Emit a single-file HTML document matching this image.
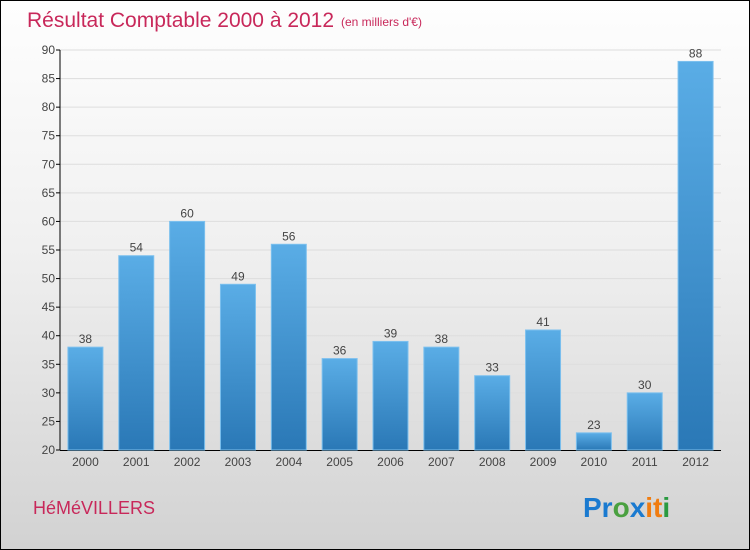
<!DOCTYPE html>
<html><head><meta charset="utf-8"><style>
body{margin:0;}
#wrap{position:relative;width:748px;height:548px;border:1px solid #000;background:linear-gradient(#fefefe 0%,#f0f0f0 45%,#d2d2d2 100%);overflow:hidden;font-family:"Liberation Sans",sans-serif;}
</style></head><body>
<div id="wrap">
<svg width="748" height="548">
<defs><linearGradient id="bg" x1="0" y1="0" x2="0" y2="1"><stop offset="0" stop-color="#5aade6"/><stop offset="1" stop-color="#2a78b6"/></linearGradient></defs>
<text x="26" y="26" font-size="21" fill="#c8285a">Résultat Comptable 2000 à 2012</text>
<text x="340" y="25" font-size="12" fill="#c8285a">(en milliers d'€)</text>
<g id="axes"></g><g id="bars"></g>
<text x="32" y="513" font-size="18" fill="#c8285a">HéMéVILLERS</text>
<g font-size="28" font-weight="bold" font-family="Liberation Sans, sans-serif">
<text x="582" y="516"><tspan fill="#1a7ad0">Pr</tspan><tspan fill="#4aa040">o</tspan><tspan fill="#1a7ad0">x</tspan><tspan fill="#f07c10">i</tspan><tspan fill="#f07c10">t</tspan><tspan fill="#2a9a40">i</tspan></text></g>
</svg></div>
<script>
const years=["2000","2001","2002","2003","2004","2005","2006","2007","2008","2009","2010","2011","2012"];
const values=[38,54,60,49,56,36,39,38,33,41,23,30,88];
const yTicks=[20,25,30,35,40,45,50,55,60,65,70,75,80,85,90];
const NS="http://www.w3.org/2000/svg";
const y0=449,yTop=49,vMin=20,vMax=90,xL=59,xR=720;
const ys=v=>y0-(v-vMin)/(vMax-vMin)*(y0-yTop);
const step=(xR-xL)/years.length;
const xc=i=>xL+step*(i+0.5);
function mk(t,a,p){const e=document.createElementNS(NS,t);for(const k in a)e.setAttribute(k,a[k]);p.appendChild(e);return e;}
const ax=document.getElementById('axes'),bs=document.getElementById('bars');
yTicks.forEach(v=>{
 const l=mk('line',{x1:xL,x2:xR,y1:ys(v),y2:ys(v),stroke:'#ddd','stroke-width':1},ax);
 
 
 const tk=mk('line',{x1:xL-4,x2:xL,y1:ys(v),y2:ys(v),stroke:'#000'},ax);
 
 
 const t=mk('text',{x:xL-5,y:ys(v)+4,'text-anchor':'end','font-size':12,fill:'#444'},ax);
 t.textContent=v;
 
 
});
const ya=mk('line',{x1:xL,x2:xL,y1:yTop,y2:y0,stroke:'#000'},ax);


const xa=mk('line',{x1:xL,x2:xR,y1:y0+0.5,y2:y0+0.5,stroke:'#000'},ax);


years.forEach((y,i)=>{
 const bw=35,top=ys(values[i]);
 const r=mk('rect',{x:xc(i)-bw/2,y:top,width:bw,height:y0-top,fill:'url(#bg)',stroke:'#7cc0ee','stroke-width':1},bs);
 
 
 const vl=mk('text',{x:xc(i),y:top-4,'text-anchor':'middle','font-size':12,fill:'#444'},bs);
 vl.textContent=values[i];
 
 
 const xl=mk('text',{x:xc(i),y:y0+16,'text-anchor':'middle','font-size':12,fill:'#444'},bs);
 xl.textContent=y;
 
 
});
</script>
</body></html>
